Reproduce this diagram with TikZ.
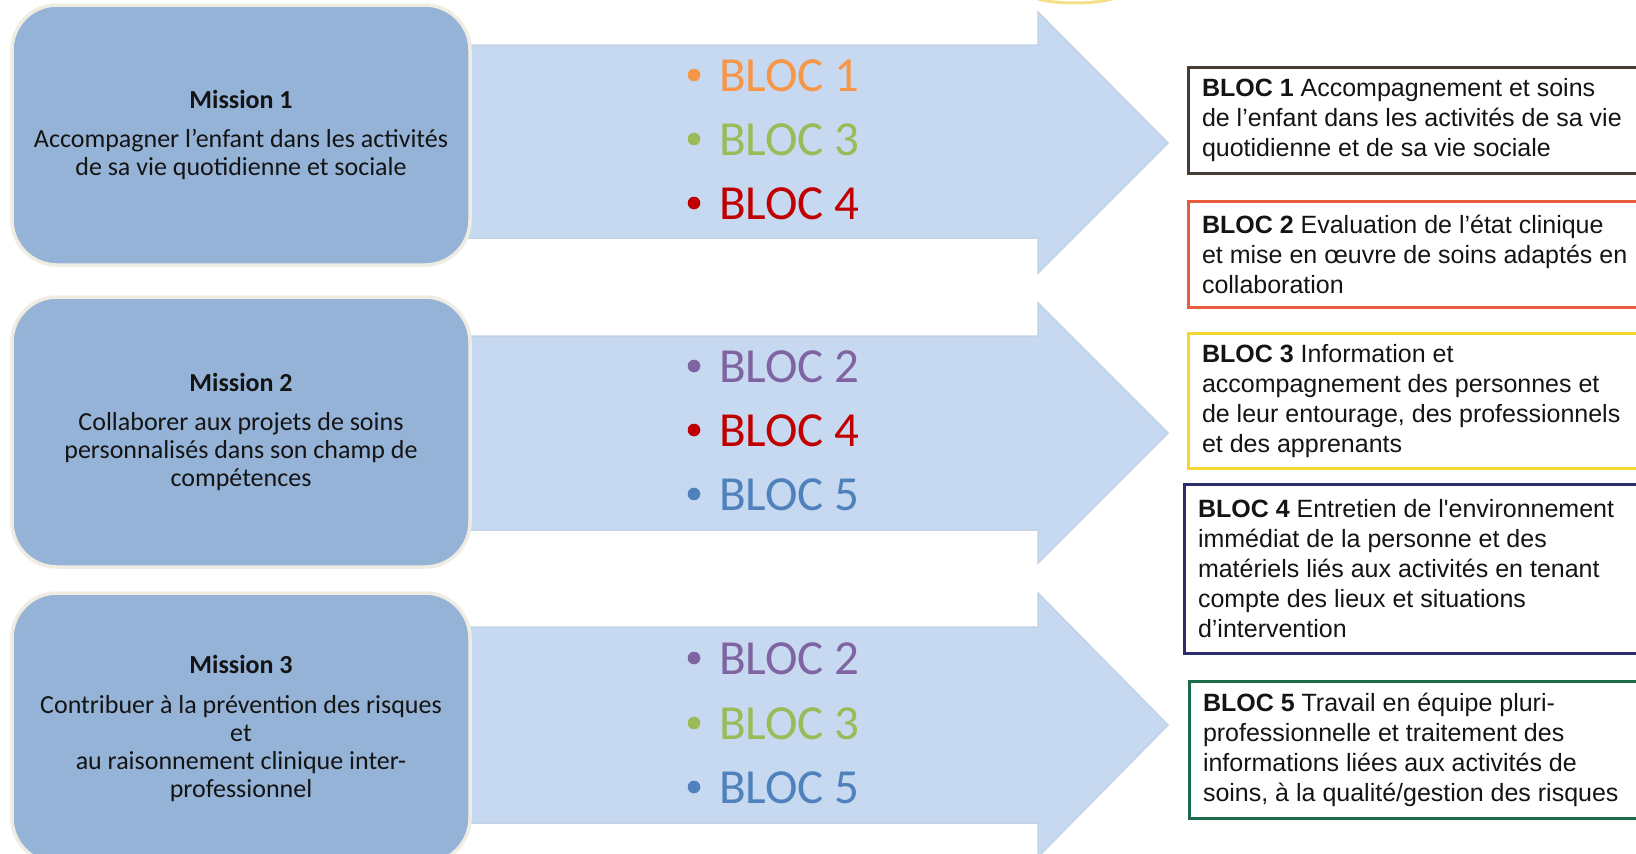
\documentclass[tikz,border=0pt]{standalone}
\usepackage{fontspec}
\setmainfont{Carlito}
\newfontfamily\arialf{Liberation Sans}
\newcommand\natspace[1]{\spaceskip=#1em\relax}
\usetikzlibrary{calc}
\definecolor{missfill}{HTML}{95B3D7}
\definecolor{missedge}{HTML}{EFEDE2}
\definecolor{arrfill}{HTML}{C6D9F0}
\definecolor{arredge}{HTML}{C3D3E7}
\definecolor{borange}{HTML}{F79646}
\definecolor{bgreen}{HTML}{9BBB59}
\definecolor{bred}{HTML}{C00000}
\definecolor{bpurple}{HTML}{8064A2}
\definecolor{bblue}{HTML}{4F81BD}
\definecolor{edgeA}{HTML}{473D33}
\definecolor{edgeB}{HTML}{E85C3D}
\definecolor{edgeC}{HTML}{F5D530}
\definecolor{edgeD}{HTML}{2C2E6A}
\definecolor{edgeE}{HTML}{1D6B4B}
\definecolor{txt}{HTML}{141414}
\definecolor{topyel}{HTML}{F6DF8A}
\begin{document}
\begin{tikzpicture}[x=1pt,y=-1pt,
  missionbox/.style={draw=missedge, line width=3.5pt, fill=missfill, rounded corners=45pt,
    minimum width=458pt, text width=440pt, align=center, text=txt,
    font=\fontsize{26}{28}\selectfont, inner sep=0pt},
  arrowshape/.style={fill=arrfill, draw=arredge, line width=1.5pt},
  bloclbl/.style={font=\fontsize{49}{52}\selectfont, inner sep=0pt, anchor=base west},
  blocbox/.style={draw, line width=3pt, fill=white, anchor=north west, text width=445pt,
    align=left, inner xsep=13.5pt, inner ysep=0pt, text=txt,
    font=\arialf\fontsize{25}{30}\selectfont}
]
\useasboundingbox (0,0) rectangle (1636,854);
\clip (0,0) rectangle (1636,854);
\fill[white] (0,0) rectangle (1636,854);
\draw[topyel, line width=3pt] (1075,-6) ellipse [x radius=44pt, y radius=9pt];

% arrows
\path[arrowshape] (440,45) -- (1038,45) -- (1038,12) -- (1168,143) -- (1038,273) -- (1038,238) -- (440,238) -- cycle;
\path[arrowshape] (440,336) -- (1038,336) -- (1038,303) -- (1168,433) -- (1038,563) -- (1038,530) -- (440,530) -- cycle;
\path[arrowshape] (440,627) -- (1038,627) -- (1038,593) -- (1168,725) -- (1038,857) -- (1038,823) -- (440,823) -- cycle;

% missions
\node[missionbox, minimum height=260pt] (m1) at (241,135)
  {\natspace{0.226}\textbf{Mission 1}\\[11pt]Accompagner l’enfant dans les activités\\de sa vie quotidienne et sociale};
\node[missionbox, minimum height=270pt] (m2) at (241,432)
  {\natspace{0.226}\textbf{Mission 2}\\[11pt]Collaborer aux projets de soins\\personnalisés dans son champ de\\compétences};
\node[missionbox, minimum height=270pt] (m3) at (241,728)
  {\natspace{0.226}\textbf{Mission 3}\\[12pt]Contribuer à la prévention des risques\\et\\au raisonnement clinique inter-\\professionnel};

% bloc labels
\node[bloclbl, text=borange] (a1) at (719,91) {BLOC 1};
\node[bloclbl, text=bgreen]  (a2) at (719,155) {BLOC 3};
\node[bloclbl, text=bred]    (a3) at (719,219) {BLOC 4};
\node[bloclbl, text=bpurple] (b1) at (719,382) {BLOC 2};
\node[bloclbl, text=bred]    (b2) at (719,446) {BLOC 4};
\node[bloclbl, text=bblue]   (b3) at (719,510) {BLOC 5};
\node[bloclbl, text=bpurple] (c1) at (719,674) {BLOC 2};
\node[bloclbl, text=bgreen]  (c2) at (719,739) {BLOC 3};
\node[bloclbl, text=bblue]   (c3) at (719,803) {BLOC 5};
\foreach \n/\c in {a1/borange,a2/bgreen,a3/bred,b1/bpurple,b2/bred,b3/bblue,c1/bpurple,c2/bgreen,c3/bblue}
  \fill[\c] ($(\n.base west)+(-25,-16)$) circle (6.3pt);

% bloc descriptions
\node[blocbox, draw=edgeA, minimum height=106pt] (r1) at (1187,66)
  {\natspace{0.278}\textbf{BLOC 1} Accompagnement et soins\\de l’enfant dans les activités de sa vie\\quotidienne et de sa vie sociale};
\node[blocbox, draw=edgeB, minimum height=106pt] (r2) at (1187,200)
  {\natspace{0.278}\textbf{BLOC 2} Evaluation de l’état clinique\\et mise en œuvre de soins adaptés en\\collaboration};
\node[blocbox, draw=edgeC, minimum height=135pt] (r3) at (1187,332)
  {\natspace{0.278}\textbf{BLOC 3} Information et\\accompagnement des personnes et\\de leur entourage, des professionnels\\et des apprenants};
\node[blocbox, draw=edgeD, minimum height=169pt] (r4) at (1183,483)
  {\natspace{0.278}\textbf{BLOC 4} Entretien de l\textquotesingle environnement\\immédiat de la personne et des\\matériels liés aux activités en tenant\\compte des lieux et situations\\d’intervention};
\node[blocbox, draw=edgeE, minimum height=137pt] (r5) at (1188,680)
  {\natspace{0.278}\textbf{BLOC 5} Travail en équipe pluri-\\professionnelle et traitement des\\informations liées aux activités de\\soins, à la qualité/gestion des risques};
\end{tikzpicture}
\end{document}
